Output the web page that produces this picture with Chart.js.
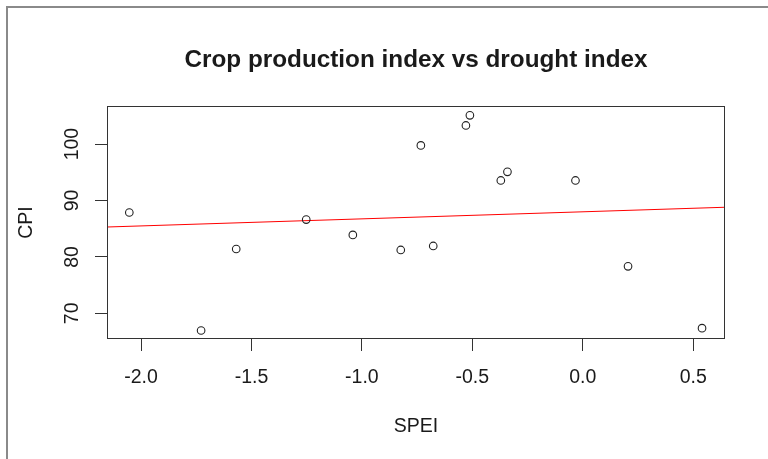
<!DOCTYPE html>
<html>
<head>
<meta charset="utf-8">
<script src="https://cdn.jsdelivr.net/npm/chart.js@4"></script>
<style>
  html, body { margin: 0; padding: 0; background: #fff; }
  #wrap { width: 768px; height: 459px; position: relative; }
</style>
</head>
<body>
<div id="wrap"><canvas id="c" width="768" height="459"></canvas></div>
<script>
// Data
const spei = [-2.053, -1.728, -1.569, -1.252, -1.041, -0.824, -0.733, -0.677, -0.529, -0.511, -0.371, -0.341, -0.033, 0.205, 0.540];
const cpi  = [87.87, 66.96, 81.4, 86.62, 83.9, 81.23, 99.77, 81.94, 103.3, 105.1, 93.55, 95.08, 93.55, 78.33, 67.37];
// Fitted regression line (endpoints at plot edges)
const fitX = [-2.154, 0.644];
const fitY = [85.3, 88.8];
// Axis ticks
const xTicks = [-2.0, -1.5, -1.0, -0.5, 0.0, 0.5];
const yTicks = [70, 80, 90, 100];
const xRange = [-2.154, 0.644];
const yRange = [65.45, 106.75];

const titleText = 'Crop production index vs drought index';
const xTitle = 'SPEI';
const yTitle = 'CPI';

const FONT = '"Liberation Sans", Arial, sans-serif';
const INK = '#1a1a1a';

const decorPlugin = {
  id: 'decor',
  beforeDraw(chart) {
    const ctx = chart.ctx;
    ctx.save();
    ctx.fillStyle = '#ffffff';
    ctx.fillRect(0, 0, chart.width, chart.height);
    // outer grey frame (left and top)
    ctx.fillStyle = '#8a8a8a';
    ctx.fillRect(6, 6, chart.width - 6, 2);
    ctx.fillRect(6, 6, 2, chart.height - 6);
    ctx.restore();
  },
  afterDraw(chart) {
    const ctx = chart.ctx;
    const a = chart.chartArea;
    const xs = chart.scales.x, ys = chart.scales.y;
    ctx.save();
    // plot box
    ctx.strokeStyle = '#333';
    ctx.lineWidth = 1;
    ctx.strokeRect(Math.round(a.left) + 0.5, Math.round(a.top) + 0.5,
                   Math.round(a.right - a.left) - 1, Math.round(a.bottom - a.top) - 1);
    const cx = (a.left + a.right) / 2;
    const cy = (a.top + a.bottom) / 2;
    ctx.fillStyle = INK;
    // title
    ctx.font = 'bold 24.3px ' + FONT;
    ctx.textAlign = 'center';
    ctx.textBaseline = 'alphabetic';
    ctx.fillText(titleText, cx, 67);
    // x tick labels
    ctx.font = '19.5px ' + FONT;
    xTicks.forEach(v => {
      ctx.fillText(v.toFixed(1), xs.getPixelForValue(v), 383);
    });
    // x title
    ctx.fillText(xTitle, cx, 432);
    // y tick labels (rotated)
    yTicks.forEach(v => {
      ctx.save();
      ctx.translate(78, ys.getPixelForValue(v));
      ctx.rotate(-Math.PI / 2);
      ctx.fillText(String(v), 0, 0);
      ctx.restore();
    });
    // y title
    ctx.save();
    ctx.translate(32, cy);
    ctx.rotate(-Math.PI / 2);
    ctx.fillText(yTitle, 0, 0);
    ctx.restore();
    ctx.restore();
  }
};

new Chart(document.getElementById('c'), {
  type: 'scatter',
  data: {
    datasets: [
      {
        label: 'CPI',
        data: spei.map((x, i) => ({ x: x, y: cpi[i] })),
        pointRadius: 3.8,
        pointBorderWidth: 1.1,
        pointBackgroundColor: 'rgba(0,0,0,0)',
        pointBorderColor: '#222',
        showLine: false
      },
      {
        label: 'fit',
        type: 'line',
        data: fitX.map((x, i) => ({ x: x, y: fitY[i] })),
        borderColor: '#ff0000',
        borderWidth: 1.2,
        pointRadius: 0,
        fill: false,
        clip: 0
      }
    ]
  },
  options: {
    responsive: false,
    animation: false,
    devicePixelRatio: 1,
    layout: { padding: { top: 106, right: 43, left: 0, bottom: 0 } },
    plugins: {
      legend: { display: false },
      title: { display: false },
      tooltip: { enabled: false }
    },
    scales: {
      x: {
        type: 'linear',
        min: xRange[0], max: xRange[1],
        afterBuildTicks: s => { s.ticks = xTicks.map(v => ({ value: v })); },
        afterFit: s => { s.height = 120; },
        grid: { drawOnChartArea: false, drawTicks: true, tickLength: 12, color: '#333', lineWidth: 1 },
        border: { display: false },
        ticks: { display: false }
      },
      y: {
        type: 'linear',
        min: yRange[0], max: yRange[1],
        afterBuildTicks: s => { s.ticks = yTicks.map(v => ({ value: v })); },
        afterFit: s => { s.width = 107; },
        grid: { drawOnChartArea: false, drawTicks: true, tickLength: 12, color: '#333', lineWidth: 1 },
        border: { display: false },
        ticks: { display: false }
      }
    }
  },
  plugins: [decorPlugin]
});
</script>
</body>
</html>
